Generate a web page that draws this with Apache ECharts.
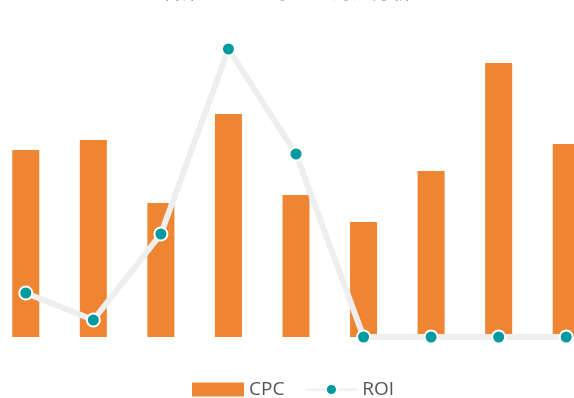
<!DOCTYPE html>
<html>
<head>
<meta charset="utf-8">
<script src="https://cdn.jsdelivr.net/npm/echarts@6/dist/echarts.min.js"></script>
<style>
  html, body { margin: 0; padding: 0; background: #fff; }
  #chart { width: 574px; height: 398px; }
</style>
</head>
<body>
<div id="chart"></div>
<script>
// Channel categories
const categories = ['渠道1', '渠道2', '渠道3', '渠道4', '渠道5', '渠道6', '渠道7', '渠道8', '渠道9'];
// Cost per click
const cpcValues = [1.87, 1.97, 1.34, 2.23, 1.42, 1.15, 1.66, 2.74, 1.93];
// Return on investment
const roiValues = [0.44, 0.17, 1.03, 2.88, 1.83, 0, 0, 0, 0];

const chart = echarts.init(document.getElementById('chart'));
chart.setOption({
  animation: false,
  title: {
    text: '各渠道 CPC 与 ROI 对比分析',
    left: 'center',
    top: -24,
    textStyle: { color: '#777', fontSize: 20, fontWeight: 'normal', fontFamily: 'Noto Sans CJK SC' }
  },
  legend: {
    bottom: -6,
    left: 187,
    itemWidth: 52,
    itemHeight: 14,
    itemGap: 20,
    textStyle: { color: '#555', fontSize: 19, fontFamily: 'Open Sans' },
    data: [{ name: 'CPC', icon: 'rect' }, 'ROI']
  },
  grid: { left: -8, width: 608, top: 37, height: 300, containLabel: false, outerBoundsMode: 'none' },
  xAxis: {
    type: 'category',
    data: categories,
    show: false
  },
  yAxis: [
    { type: 'value', min: 0, max: 3, show: false },
    { type: 'value', min: 0, max: 3, show: false }
  ],
  series: [
    {
      name: 'CPC',
      type: 'bar',
      data: cpcValues,
      barWidth: '40%',
      itemStyle: { color: '#ed8533' }
    },
    {
      name: 'ROI',
      type: 'line',
      yAxisIndex: 1,
      data: roiValues,
      symbol: 'circle',
      symbolSize: 13,
      lineStyle: { color: '#eeeeee', width: 6 },
      itemStyle: { color: '#009aa0', borderColor: '#fff', borderWidth: 2 }
    }
  ]
});
</script>
</body>
</html>
